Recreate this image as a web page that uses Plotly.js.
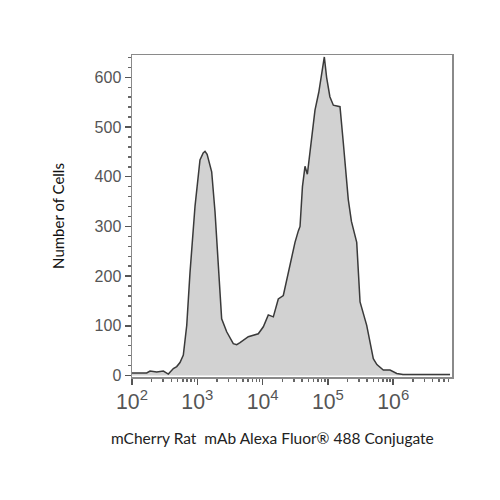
<!DOCTYPE html>
<html><head><meta charset="utf-8">
<script src="https://cdn.plot.ly/plotly-3.0.1.min.js"></script>
<style>body{margin:0;background:#fff}#chart{width:500px;height:500px}</style>
</head><body><div id="chart"></div>
<script>
const fluorescence = [100,117,168,189,239,302,360,430,484,543,611,689,773,923,1099,1230,1312,1413,1660,1866,2099,2360,2818,3556,4009,4508,6039,8590,10257,12218,14588,17378,20749,24717,26303,31333,35237,37411,40738,44566,48417,52481,58884,63387,72444,79433,88105,95499,107152,121061,153109,172187,205116,229087,245471,276058,295121,310456,392645,436516,495450,562341,704693,893305,1132400,1412538,2000000,4000000,7413102];
const cellCounts = [5,5,5,9,7,9,3,14,18,26,41,101,207,341,434,448,451,445,410,330,215,114,88,64,62,66,78,84,98,122,118,154,161,207,225,268,291,300,380,421,405,445,500,534,570,600,641,600,561,544,541,468,354,310,294,268,200,148,101,70,34,22,11,11,4,2,2,2,2];
const xTitle = "mCherry Rat  mAb Alexa Fluor® 488 Conjugate";
const yTitle = "Number of Cells";

const trace = {
  x: fluorescence, y: cellCounts, type: 'scatter', mode: 'lines',
  fill: 'tozeroy', fillcolor: '#d2d2d2',
  line: {color: '#3a3a3a', width: 1.5, shape: 'linear'},
  hoverinfo: 'skip'
};
const layout = {
  width: 500, height: 500,
  margin: {l: 132, r: 48, t: 55, b: 123},
  paper_bgcolor: '#fff', plot_bgcolor: '#fff',
  showlegend: false,
  font: {family: 'Arial, Liberation Sans, sans-serif'},
  xaxis: {
    type: 'log', range: [2, 6.9], dtick: 1, exponentformat: 'power',
    showgrid: false, zeroline: false,
    showline: true, linecolor: '#8a8a8a', linewidth: 1.5, mirror: true,
    ticks: 'outside', ticklen: 6, tickcolor: '#555', tickwidth: 1.5,
    minor: {ticks: 'outside', ticklen: 3, tickcolor: '#666', showgrid: false},
    tickfont: {size: 17, color: '#555'}
  },
  yaxis: {
    range: [-3, 645], dtick: 100, showgrid: false, zeroline: false,
    showline: true, linecolor: '#8a8a8a', linewidth: 1.5, mirror: true,
    ticks: 'outside', ticklen: 6, tickcolor: '#555', tickwidth: 1.5,
    minor: {ticks: 'outside', ticklen: 3, dtick: 20, tickcolor: '#666', showgrid: false},
    tickfont: {size: 16, color: '#555'},
    title: {text: yTitle, font: {family: 'Lato, Open Sans, sans-serif', size: 15, color: '#111'}, standoff: 26}
  },
  annotations: [{
    text: xTitle, xref: 'paper', yref: 'paper', x: (272-132)/320, y: -0.19,
    xanchor: 'center', yanchor: 'middle', showarrow: false,
    font: {family: 'Lato, Open Sans, sans-serif', size: 15.5, color: '#222'}
  }]
};
Plotly.newPlot('chart', [trace], layout, {displayModeBar: false, staticPlot: true});
</script></body></html>
